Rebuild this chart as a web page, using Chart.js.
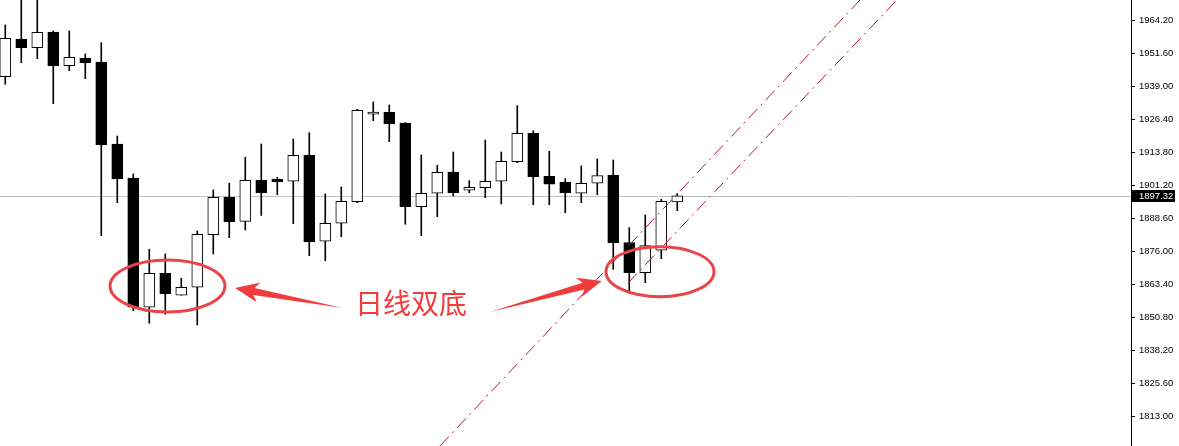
<!DOCTYPE html>
<html><head><meta charset="utf-8">
<script src="https://cdn.jsdelivr.net/npm/chart.js@4"></script>
<style>html,body{margin:0;padding:0;background:#fff;overflow:hidden}#c{display:block}</style>
</head><body>
<canvas id="c" width="1179" height="446"></canvas>
<script>
// ---- data ----
const opens  = [1942.82,1957.21,1953.89,1959.89,1947.02,1949.96,1948.43,1917.12,1904.14,1854.77,
                1867.75,1859.35,1862.40,1882.49,1896.77,1887.60,1903.26,1903.76,1902.88,1912.81,
                1879.97,1886.84,1895.09,1928.46,1929.22,1925.14,1893.18,1898.30,1906.43,1899.44,
                1900.43,1902.88,1910.36,1921.21,1904.79,1902.50,1898.30,1902.12,1905.17,1879.43,
                1867.98,1876.53,1894.97];
const highs  = [1962.56,1975.00,1976.00,1960.27,1960.27,1951.49,1955.80,1920.17,1905.67,1876.91,
                1875.12,1865.84,1883.90,1899.56,1902.12,1912.04,1917.12,1904.41,1919.03,1921.43,
                1898.03,1900.70,1930.37,1933.16,1932.01,1925.30,1912.92,1908.99,1914.07,1903.11,
                1918.65,1914.07,1931.74,1922.20,1914.33,1903.87,1908.72,1911.39,1911.01,1885.16,
                1890.01,1896.00,1898.20];
const lows   = [1939.92,1948.16,1949.69,1932.51,1945.11,1942.05,1882.11,1894.71,1853.47,1848.66,
                1852.10,1859.35,1848.01,1875.12,1881.34,1884.28,1889.82,1897.76,1886.69,1874.47,
                1872.56,1881.72,1894.71,1926.02,1918.00,1886.46,1882.11,1889.36,1897.27,1898.53,
                1896.62,1894.21,1909.98,1893.94,1893.94,1890.89,1894.71,1897.76,1869.28,1860.11,
                1864.16,1873.32,1891.65];
const closes = [1957.48,1953.89,1959.77,1947.02,1950.22,1948.16,1916.85,1903.76,1854.77,1867.75,
                1859.96,1862.40,1882.64,1896.77,1887.45,1903.26,1898.53,1902.73,1912.81,1879.82,
                1886.84,1895.24,1929.99,1929.34,1924.87,1893.18,1898.30,1906.31,1898.53,1900.59,
                1902.88,1910.51,1921.21,1904.63,1901.73,1898.53,1902.12,1905.02,1879.43,1867.98,
                1878.29,1895.24,1897.32];
const tickValues = [1813.00,1825.60,1838.20,1850.80,1863.40,1876.00,1888.60,1901.20,1913.80,1926.40,1939.00,1951.60,1964.20];
const lastPrice = 1897.32;
const noteText = '日线双底';

// annotation anchors, in (bar index, price) units
const ellipseLeft  = {x: 10.14, y: 1862.9, rx: 3.59, ry: 9.93};
const ellipseRight = {x: 40.92, y: 1868.36, rx: 3.375, ry: 9.55};
const arrowLeft  = {tail: [21.1, 1854.5], tip: [14.36, 1862.14]};
const arrowRight = {tail: [30.29, 1852.97], tip: [37.29, 1864.81]};
const notePos = [25.36, 1856.2];
const trendA = [[27.17, 1801.81], [53.42, 1972.10]];
const trendB = [[38.92, 1864.05], [55.73, 1972.10]];

// ---- build datasets ----
const barIndex = opens.map((_, i) => i);
const wickData = barIndex.map(i => ({x: i, y: [lows[i], highs[i]]}));
const bodyData = barIndex.map(i => ({x: i, y: [opens[i], closes[i]]}));
const bodyFill = barIndex.map(i => closes[i] > opens[i] ? '#ffffff' : '#000000');

const overlay = {
  id: 'overlay',
  beforeDatasetsDraw(chart) {
    const {ctx, chartArea: a, scales: {y}} = chart;
    const yy = Math.round(y.getPixelForValue(lastPrice)) + 0.5;
    ctx.save();
    ctx.strokeStyle = '#c0c0c0'; ctx.lineWidth = 1;
    ctx.beginPath(); ctx.moveTo(a.left, yy); ctx.lineTo(a.right, yy); ctx.stroke();
    ctx.restore();
  },
  afterDatasetsDraw(chart) {
    const {ctx, chartArea: a, scales: {x, y}} = chart;
    const P = (p) => [x.getPixelForValue(p[0]), y.getPixelForValue(p[1])];
    ctx.save();
    ctx.beginPath(); ctx.rect(a.left, a.top, a.right - a.left, a.bottom - a.top); ctx.clip();

    // dash-dot trend lines
    ctx.strokeStyle = '#b4182e'; ctx.lineWidth = 1; ctx.setLineDash([13, 5, 2, 5]);
    [trendA, trendB].forEach(t => {
      const p0 = P(t[0]), p1 = P(t[1]);
      ctx.beginPath(); ctx.moveTo(p0[0], p0[1]); ctx.lineTo(p1[0], p1[1]); ctx.stroke();
    });
    ctx.setLineDash([]);

    // ellipses
    ctx.strokeStyle = '#e8454a'; ctx.lineWidth = 3;
    [ellipseLeft, ellipseRight].forEach(e => {
      const c = P([e.x, e.y]);
      const rx = Math.abs(x.getPixelForValue(e.x + e.rx) - c[0]);
      const ry = Math.abs(y.getPixelForValue(e.y + e.ry) - c[1]);
      ctx.beginPath(); ctx.ellipse(c[0], c[1], rx, ry, 0, 0, Math.PI * 2); ctx.stroke();
    });

    // arrows
    ctx.fillStyle = '#f03c3c';
    [arrowLeft, arrowRight].forEach(ar => {
      const t = P(ar.tail), h = P(ar.tip);
      const dx = h[0] - t[0], dy = h[1] - t[1], L = Math.hypot(dx, dy);
      const ux = dx / L, uy = dy / L, nx = -uy, ny = ux;
      const headLen = 24, headHalf = 10, shaftHalf = 3.5;
      const bx = h[0] - ux * headLen * 0.8, by = h[1] - uy * headLen * 0.8;
      const kx = h[0] - ux * headLen, ky = h[1] - uy * headLen;
      ctx.beginPath();
      ctx.moveTo(t[0], t[1]);
      ctx.lineTo(bx + nx * shaftHalf, by + ny * shaftHalf);
      ctx.lineTo(kx + nx * headHalf, ky + ny * headHalf);
      ctx.lineTo(h[0], h[1]);
      ctx.lineTo(kx - nx * headHalf, ky - ny * headHalf);
      ctx.lineTo(bx - nx * shaftHalf, by - ny * shaftHalf);
      ctx.closePath(); ctx.fill();
    });

    // text
    const tp = P(notePos);
    ctx.font = '28px "Noto Sans CJK SC"';
    ctx.textAlign = 'center'; ctx.textBaseline = 'middle';
    ctx.fillStyle = '#f03c3c';
    ctx.fillText(noteText, tp[0], tp[1]);
    ctx.restore();
  },
  afterDraw(chart) {
    const {ctx, chartArea: a, scales: {y}} = chart;
    const yy = Math.round(y.getPixelForValue(lastPrice));
    ctx.save();
    ctx.fillStyle = '#000';
    ctx.fillRect(a.right + 1, yy - 6, 43, 12);
    ctx.fillStyle = '#fff';
    ctx.font = '9.5px "Liberation Sans"';
    ctx.textAlign = 'left'; ctx.textBaseline = 'middle';
    ctx.fillText(lastPrice.toFixed(2), a.right + 8, yy + 0.5);
    ctx.restore();
  }
};

new Chart(document.getElementById('c'), {
  type: 'bar',
  data: {
    datasets: [
      { label: 'body', data: bodyData, backgroundColor: bodyFill, borderColor: '#000',
        borderWidth: 1, borderSkipped: false, barThickness: 11, grouped: false, order: 0 },
      { label: 'wick', data: wickData, backgroundColor: '#000', borderWidth: 0,
        barThickness: 1, grouped: false, order: 1 }
    ]
  },
  options: {
    responsive: false, animation: false, devicePixelRatio: 1,
    layout: { padding: 0 },
    plugins: { legend: { display: false }, tooltip: { enabled: false } },
    scales: {
      x: { type: 'linear', min: -0.33, max: 70.36, offset: false, display: false },
      y: {
        position: 'right', min: 1801.8, max: 1972.1,
        afterBuildTicks: s => { s.ticks = tickValues.map(v => ({ value: v })); },
        afterFit: s => { s.width = 48; s.paddingTop = 0; s.paddingBottom = 0; },
        border: { display: true, color: '#000', width: 1 },
        grid: { drawOnChartArea: false, drawTicks: true, tickLength: 4, tickColor: '#000' },
        ticks: { autoSkip: false, padding: 4, color: '#000',
                 font: { family: 'Liberation Sans', size: 9.5 },
                 callback: v => Number(v).toFixed(2) }
      }
    }
  },
  plugins: [overlay]
});
</script>
</body></html>
